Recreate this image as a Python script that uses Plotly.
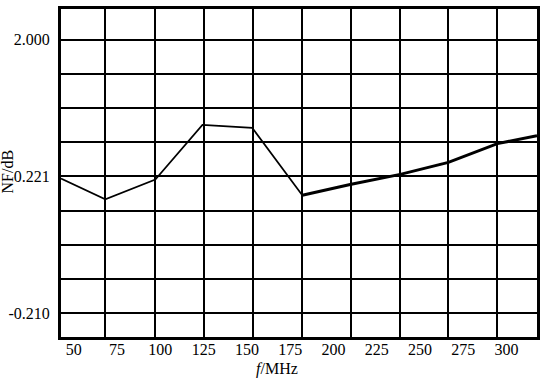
import plotly.graph_objects as go

# x tick labels (MHz)
x_ticks = [50, 75, 100, 125, 150, 175, 200, 225, 250, 275, 300]
x_tick_labels = [str(v) for v in x_ticks]

# vertical grid positions (MHz)
x_grid = [68.2, 97.1, 125.4, 153.7, 182.0, 210.3, 238.6, 266.4, 294.7]

# y axis in grid-row units; labelled rows
y_tick_pos = [0, 4, 8]
y_tick_labels = ["-0.210", "0.221", "2.000"]

# NF curve (first, thin part)
f_part1 = [42.6, 68.2, 97.1, 124.3, 153.1, 182.0]
nf_part1 = [3.94, 3.33, 3.91, 5.51, 5.42, 3.45]

# NF curve (second, thick part)
f_part2 = [182.0, 210.3, 238.6, 266.4, 294.7, 317.6]
nf_part2 = [3.45, 3.77, 4.06, 4.41, 4.96, 5.19]

font_family = "Liberation Serif, Times New Roman, serif"

fig = go.Figure()
fig.add_trace(go.Scatter(x=f_part1, y=nf_part1, mode="lines",
                         line=dict(color="black", width=1.7), showlegend=False))
fig.add_trace(go.Scatter(x=f_part2, y=nf_part2, mode="lines",
                         line=dict(color="black", width=3), showlegend=False))

fig.update_layout(
    width=556, height=384,
    margin=dict(l=61, r=19, t=6, b=47),
    paper_bgcolor="white", plot_bgcolor="white",
    font=dict(family=font_family, size=16, color="black"),
    xaxis=dict(
        range=[42.6, 317.6],
        tickvals=x_ticks, ticktext=x_tick_labels,
        showgrid=False, ticks="", zeroline=False,
        showline=True, linecolor="black", linewidth=3, mirror=True,
        ticklabelstandoff=-4,
        minor=dict(tickvals=x_grid, showgrid=True, gridcolor="black",
                   gridwidth=2, ticks=""),
    ),
    yaxis=dict(
        range=[-0.70, 8.90],
        tickvals=y_tick_pos, ticktext=y_tick_labels,
        showgrid=True, gridcolor="black", gridwidth=2.2,
        ticks="", zeroline=False,
        showline=True, linecolor="black", linewidth=3, mirror=True,
        ticklabelstandoff=5,
        minor=dict(dtick=1, tick0=0, showgrid=True, gridcolor="black",
                   gridwidth=2.2, ticks=""),
    ),
    annotations=[
        dict(text="<i>f</i>/MHz", xref="paper", yref="paper",
             x=(277 - 61) / (556 - 61 - 19), y=-(369 - 337) / (384 - 6 - 47),
             showarrow=False, font=dict(size=16), xanchor="center", yanchor="middle"),
        dict(text="NF/dB", xref="paper", yref="paper",
             x=-(61 - 8) / (556 - 61 - 19), y=(337 - 170) / (384 - 6 - 47),
             textangle=-90, showarrow=False, font=dict(size=16),
             xanchor="center", yanchor="middle"),
    ],
)

fig.write_html("out.html", config={"displayModeBar": False},
               post_script="document.body.style.margin='0';")
